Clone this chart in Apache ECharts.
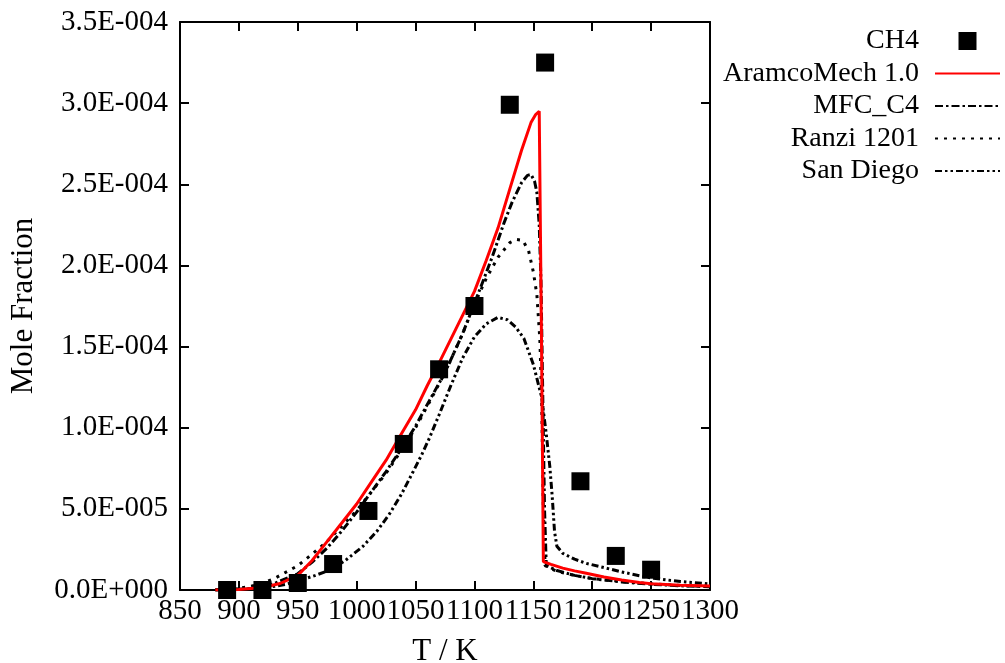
<!DOCTYPE html>
<html>
<head>
<meta charset="utf-8">
<script src="https://cdn.jsdelivr.net/npm/echarts@6/dist/echarts.min.js"></script>
<style>html,body{margin:0;padding:0;background:#fff;}#c{width:1005px;height:663px;}</style>
</head>
<body>
<div id="c"></div>
<script>
// ---- data ----
const ch4T = [890, 920, 950, 980, 1010, 1040, 1070, 1100, 1130, 1160, 1190, 1220, 1250];
const ch4Y = [0, 0, 4.3e-6, 1.6e-5, 4.87e-5, 9.0e-5, 1.36e-4, 1.75e-4, 2.99e-4, 3.25e-4, 6.7e-5, 2.1e-5, 1.25e-5];

const aramcoT = [880, 900, 920, 935, 950, 962, 975, 987, 1000, 1012, 1025, 1037, 1050, 1060, 1070, 1085, 1100, 1110, 1120, 1130, 1140, 1148, 1152, 1155, 1157, 1158.5, 1165, 1175, 1185, 1195, 1210, 1225, 1240, 1250, 1275, 1300];
const aramcoY = [0, 0.3e-6, 1.5e-6, 4e-6, 9e-6, 1.8e-5, 3.0e-5, 4.1e-5, 5.3e-5, 6.6e-5, 8.0e-5, 9.5e-5, 1.11e-4, 1.26e-4, 1.4e-4, 1.62e-4, 1.84e-4, 2.03e-4, 2.23e-4, 2.47e-4, 2.71e-4, 2.88e-4, 2.93e-4, 2.95e-4, 1.5e-4, 1.75e-5, 1.58e-5, 1.35e-5, 1.18e-5, 1.03e-5, 8.0e-6, 6.2e-6, 4.6e-6, 3.8e-6, 3.0e-6, 2.4e-6];

const mfcT = [880, 910, 930, 950, 962, 975, 987, 1000, 1012, 1025, 1037, 1050, 1062, 1075, 1090, 1105, 1115, 1125, 1132, 1140, 1145, 1148, 1151, 1153, 1155, 1156.5, 1158, 1159.5, 1161, 1170, 1185, 1200, 1225, 1250, 1275, 1300];
const mfcY = [0, 1e-6, 4e-6, 1.0e-5, 1.7e-5, 2.6e-5, 3.6e-5, 4.8e-5, 6.0e-5, 7.3e-5, 8.6e-5, 1.01e-4, 1.17e-4, 1.34e-4, 1.58e-4, 1.86e-4, 2.05e-4, 2.26e-4, 2.39e-4, 2.51e-4, 2.555e-4, 2.56e-4, 2.52e-4, 2.45e-4, 2.25e-4, 1.9e-4, 1.2e-4, 5e-5, 1.5e-5, 1.2e-5, 9e-6, 7e-6, 5e-6, 3.5e-6, 2.6e-6, 2e-6];

const ranziT = [880, 900, 915, 930, 950, 962, 975, 987, 1000, 1012, 1025, 1037, 1050, 1062, 1075, 1090, 1100, 1110, 1120, 1130, 1136, 1141, 1146, 1150, 1153, 1155.5, 1157, 1158.5, 1160, 1170, 1185, 1200, 1225, 1250, 1275, 1300];
const ranziY = [0, 1e-6, 3e-6, 7e-6, 1.5e-5, 2.2e-5, 3.0e-5, 3.9e-5, 4.9e-5, 6.0e-5, 7.2e-5, 8.5e-5, 1.0e-4, 1.16e-4, 1.34e-4, 1.58e-4, 1.76e-4, 1.92e-4, 2.05e-4, 2.14e-4, 2.16e-4, 2.155e-4, 2.09e-4, 1.96e-4, 1.82e-4, 1.55e-4, 1.2e-4, 5e-5, 1.5e-5, 1.15e-5, 9e-6, 7e-6, 5.2e-6, 3.8e-6, 2.8e-6, 2.1e-6];

const sdT = [880, 920, 940, 952, 965, 977, 990, 1005, 1017, 1028, 1038, 1048, 1055, 1062, 1070, 1080, 1090, 1100, 1110, 1120, 1128, 1135, 1142, 1150, 1157, 1161, 1164, 1166, 1168, 1170, 1175, 1185, 1195, 1210, 1224, 1240, 1252, 1275, 1300];
const sdY = [0, 1e-6, 3.5e-6, 6e-6, 9e-6, 1.23e-5, 1.8e-5, 2.67e-5, 3.6e-5, 4.7e-5, 5.9e-5, 7.3e-5, 8.3e-5, 9.4e-5, 1.08e-4, 1.26e-4, 1.43e-4, 1.56e-4, 1.64e-4, 1.68e-4, 1.665e-4, 1.62e-4, 1.55e-4, 1.39e-4, 1.19e-4, 9.6e-5, 7.6e-5, 5.8e-5, 3.6e-5, 2.7e-5, 2.26e-5, 1.9e-5, 1.64e-5, 1.38e-5, 1.13e-5, 8.8e-6, 7.2e-6, 5.2e-6, 3.8e-6];

const xTickLabels = ['850', '900', '950', '1000', '1050', '1100', '1150', '1200', '1250', '1300'];
const yTickLabels = ['0.0E+000', '5.0E-005', '1.0E-004', '1.5E-004', '2.0E-004', '2.5E-004', '3.0E-004', '3.5E-004'];

const zip = (a, b) => a.map((v, i) => [v, b[i]]);

const FONT = 'Liberation Serif';
const axisLine = { show: true, onZero: false, lineStyle: { color: '#000', width: 2 } };
const axisTick = { show: true, inside: true, length: 9, lineStyle: { color: '#000', width: 2 } };
const hiddenSymbol = { color: 'rgba(0,0,0,0)', opacity: 0, borderWidth: 0 };

const chart = echarts.init(document.getElementById('c'), null, { renderer: 'canvas' });
chart.setOption({
  animation: false,
  backgroundColor: '#fff',
  textStyle: { fontFamily: FONT, color: '#000' },
  grid: { left: 180, right: 295, top: 22, bottom: 73, containLabel: false, outerBoundsMode: 'none' },
  xAxis: [
    {
      type: 'value', min: 850, max: 1300, interval: 50, position: 'bottom',
      axisLine, axisTick, splitLine: { show: false },
      axisLabel: { show: true, margin: 7, fontSize: 29, fontFamily: FONT, color: '#000',
        showMinLabel: true, showMaxLabel: true,
        formatter: (v, i) => xTickLabels[i] },
      name: 'T / K', nameLocation: 'middle', nameGap: 46,
      nameTextStyle: { fontSize: 31, fontFamily: FONT, color: '#000' }
    },
    {
      type: 'value', min: 850, max: 1300, interval: 50, position: 'top',
      axisLine, axisTick, splitLine: { show: false }, axisLabel: { show: false }
    }
  ],
  yAxis: [
    {
      type: 'value', min: 0, max: 3.5e-4, interval: 5e-5, position: 'left',
      axisLine, axisTick, splitLine: { show: false },
      axisLabel: { show: true, margin: 12, fontSize: 29, fontFamily: FONT, color: '#000',
        showMinLabel: true, showMaxLabel: true,
        formatter: (v, i) => yTickLabels[i] },
      name: 'Mole Fraction', nameLocation: 'middle', nameGap: 141,
      nameTextStyle: { fontSize: 31, fontFamily: FONT, color: '#000' }
    },
    {
      type: 'value', min: 0, max: 3.5e-4, interval: 5e-5, position: 'right',
      axisLine, axisTick, splitLine: { show: false }, axisLabel: { show: false }
    }
  ],
  legend: {
    orient: 'vertical', align: 'right', right: 4, top: 27, padding: 0,
    itemWidth: 65, itemHeight: 18, itemGap: 4.5,
    textStyle: { fontSize: 28, fontFamily: FONT, color: '#000', padding: [0, 11, 0, 0] },
    data: [
      { name: 'CH4', icon: 'path://M0,0L10,0L10,10L0,10Z', symbolKeepAspect: true, itemStyle: { color: '#000', opacity: 1 } },
      { name: 'AramcoMech 1.0', itemStyle: hiddenSymbol },
      { name: 'MFC_C4', itemStyle: hiddenSymbol },
      { name: 'Ranzi 1201', itemStyle: hiddenSymbol },
      { name: 'San Diego', itemStyle: hiddenSymbol }
    ]
  },
  series: [
    {
      name: 'CH4', type: 'scatter', data: zip(ch4T, ch4Y), symbol: 'rect', symbolSize: 18,
      itemStyle: { color: '#000', opacity: 1 }, z: 10
    },
    {
      name: 'AramcoMech 1.0', type: 'line', data: zip(aramcoT, aramcoY), showSymbol: false, symbol: 'none',
      lineStyle: { color: '#ff0000', width: 3 }, itemStyle: { color: '#ff0000' }, z: 5
    },
    {
      name: 'MFC_C4', type: 'line', data: zip(mfcT, mfcY), showSymbol: false, symbol: 'none',
      lineStyle: { color: '#000', width: 3, type: [8, 3, 2.5, 3] }, itemStyle: { color: '#000' }, z: 4
    },
    {
      name: 'Ranzi 1201', type: 'line', data: zip(ranziT, ranziY), showSymbol: false, symbol: 'none',
      lineStyle: { color: '#000', width: 3, type: [3, 6] }, itemStyle: { color: '#000' }, z: 4
    },
    {
      name: 'San Diego', type: 'line', data: zip(sdT, sdY), showSymbol: false, symbol: 'none',
      lineStyle: { color: '#000', width: 3, type: [7, 3, 2.5, 3, 2.5, 3] }, itemStyle: { color: '#000' }, z: 4
    }
  ]
});
</script>
</body>
</html>
